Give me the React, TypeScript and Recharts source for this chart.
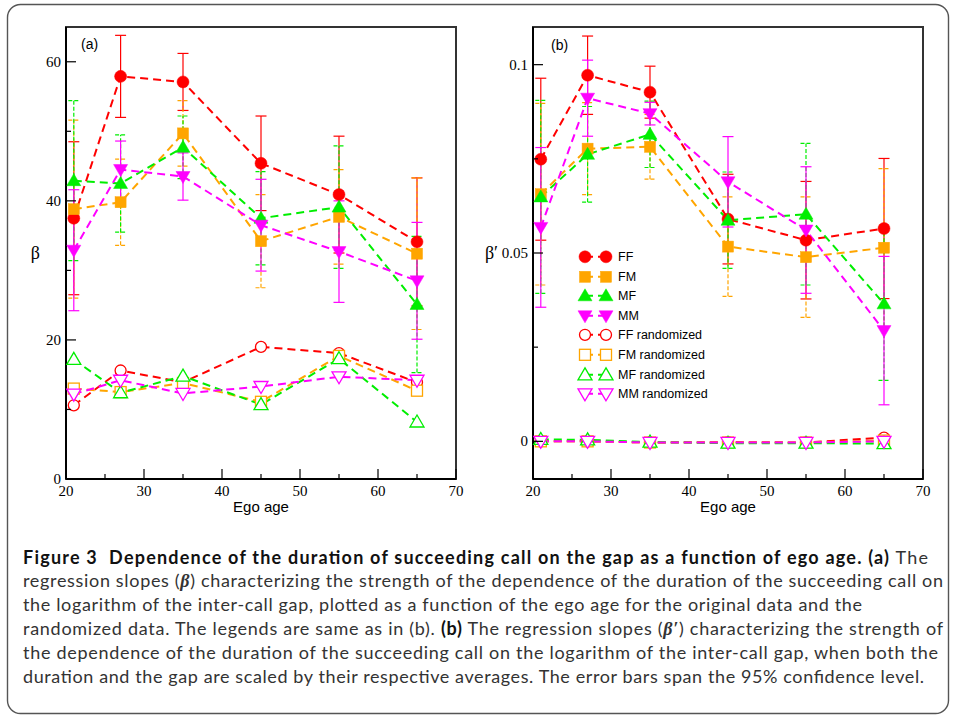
import React from 'react'
import { LineChart, Line, XAxis, YAxis, ErrorBar, ReferenceArea } from 'recharts'

// ego age groups
const ages = [21, 27, 35, 45, 55, 65]

// panel (a): beta
const betaFF = [37.5, 57.9, 57.1, 45.4, 40.9, 34.1]
const betaFFErr = [11.0, 5.9, 4.1, 6.8, 8.4, 9.2]
const betaFM = [38.8, 39.8, 49.7, 34.2, 37.7, 32.4]
const betaFMErr = [12.8, 6.2, 4.7, 6.7, 6.8, 10.9]
const betaMF = [42.9, 42.5, 47.7, 37.5, 39.1, 25.1]
const betaMFErr = [11.5, 7.0, 4.5, 6.7, 8.8, 9.8]
const betaMM = [32.9, 44.5, 43.5, 36.5, 32.7, 28.5]
const betaMMErr = [8.7, 4.1, 3.4, 6.6, 7.3, 8.4]
const betaFFRand = [10.6, 15.6, 13.9, 19.0, 18.1, 13.9]
const betaFMRand = [13.0, 12.5, 13.8, 11.1, 17.7, 12.7]
const betaMFRand = [17.2, 12.4, 14.8, 10.7, 17.3, 8.2]
const betaMMRand = [12.2, 14.2, 12.3, 13.3, 14.7, 14.2]

// panel (b): beta prime
const bpFF = [0.0749, 0.0972, 0.0927, 0.059, 0.0534, 0.0565]
const bpFFErr = [0.0215, 0.0104, 0.0069, 0.0119, 0.0156, 0.0186]
const bpFM = [0.0656, 0.0777, 0.0782, 0.0517, 0.0489, 0.0514]
const bpFMErr = [0.0241, 0.0122, 0.0086, 0.0132, 0.016, 0.021]
const bpMF = [0.0649, 0.0762, 0.0815, 0.0587, 0.0603, 0.0365]
const bpMFErr = [0.0256, 0.0127, 0.0088, 0.0128, 0.0188, 0.0203]
const bpMM = [0.0568, 0.0911, 0.087, 0.0689, 0.0561, 0.0294]
const bpMMErr = [0.0212, 0.0101, 0.003, 0.012, 0.0168, 0.0197]
const bpFFRand = [0.0, 0.0, -0.0003, -0.0002, -0.0003, 0.001]
const bpFMRand = [0.0, 0.0, -0.0003, -0.0003, -0.0003, 0.0002]
const bpMFRand = [0.0005, 0.0004, -0.0002, -0.0005, -0.0005, -0.0006]
const bpMMRand = [0.0, 0.0, -0.0003, -0.0003, -0.0003, 0.0]

const xTicks = [20, 25, 30, 35, 40, 45, 50, 55, 60, 65, 70]
const yTicksA = [0, 10, 20, 30, 40, 50, 60]
const yTicksB = [0, 0.025, 0.05, 0.075, 0.1]

type Shape = 'circle' | 'square' | 'up' | 'down'
interface Series {
  key: string
  name: string
  color: string
  shape: Shape
  filled: boolean
  errDash?: string
}

const series: Series[] = [
  { key: 'ff', name: 'FF', color: '#ff0000', shape: 'circle', filled: true },
  { key: 'fm', name: 'FM', color: '#ffa500', shape: 'square', filled: true, errDash: '4 2' },
  { key: 'mf', name: 'MF', color: '#00ee00', shape: 'up', filled: true, errDash: '4 2' },
  { key: 'mm', name: 'MM', color: '#ff00ff', shape: 'down', filled: true },
  { key: 'ffr', name: 'FF randomized', color: '#ff0000', shape: 'circle', filled: false },
  { key: 'fmr', name: 'FM randomized', color: '#ffa500', shape: 'square', filled: false },
  { key: 'mfr', name: 'MF randomized', color: '#00ee00', shape: 'up', filled: false },
  { key: 'mmr', name: 'MM randomized', color: '#ff00ff', shape: 'down', filled: false },
]

const dataA = ages.map((age, i) => ({
  age,
  ff: betaFF[i], ffErr: betaFFErr[i],
  fm: betaFM[i], fmErr: betaFMErr[i],
  mf: betaMF[i], mfErr: betaMFErr[i],
  mm: betaMM[i], mmErr: betaMMErr[i],
  ffr: betaFFRand[i], fmr: betaFMRand[i], mfr: betaMFRand[i], mmr: betaMMRand[i],
}))

const dataB = ages.map((age, i) => ({
  age,
  ff: bpFF[i], ffErr: bpFFErr[i],
  fm: bpFM[i], fmErr: bpFMErr[i],
  mf: bpMF[i], mfErr: bpMFErr[i],
  mm: bpMM[i], mmErr: bpMMErr[i],
  ffr: bpFFRand[i], fmr: bpFMRand[i], mfr: bpMFRand[i], mmr: bpMMRand[i],
}))

const SERIF = '"Liberation Serif", "Times New Roman", serif'
const SANS = '"Liberation Sans", Arial, sans-serif'

function Marker({ cx, cy, shape, color, filled }: { cx: number; cy: number; shape: Shape; color: string; filled: boolean }) {
  if (cx == null || cy == null || isNaN(cx) || isNaN(cy)) return null
  const fill = filled ? color : '#ffffff'
  const sw = filled ? 0.5 : 1.3
  if (shape === 'circle') return <circle cx={cx} cy={cy} r={filled ? 6 : 5.5} fill={fill} stroke={color} strokeWidth={sw} />
  if (shape === 'square') return <rect x={cx - 5.5} y={cy - 5.5} width={11} height={11} fill={fill} stroke={color} strokeWidth={sw} />
  if (shape === 'up') return <polygon points={`${cx},${cy - 7} ${cx - 7},${cy + 5} ${cx + 7},${cy + 5}`} fill={fill} stroke={color} strokeWidth={sw} />
  return <polygon points={`${cx},${cy + 7} ${cx - 7},${cy - 5} ${cx + 7},${cy - 5}`} fill={fill} stroke={color} strokeWidth={sw} />
}

const XTick = (props: any) => {
  const { x, y, payload } = props
  const v = payload.value
  const major = v % 10 === 0
  return (
    <g>
      <line x1={x} x2={x} y1={y} y2={y - (major ? 10 : 5)} stroke="#000" strokeWidth={1.2} />
      {major && (
        <text x={x} y={y + 17} textAnchor="middle" fontFamily={SERIF} fontSize={15} fill="#000">
          {v}
        </text>
      )}
    </g>
  )
}

const makeYTick = (step: number) => (props: any) => {
  const { x, y, payload } = props
  const v = payload.value
  const major = Math.abs(v / step - Math.round(v / step)) < 1e-6
  return (
    <g>
      <line x1={x} x2={x + (major ? 10 : 5)} y1={y} y2={y} stroke="#000" strokeWidth={1.2} />
      {major && (
        <text x={x - 5} y={y + 5} textAnchor="end" fontFamily={SERIF} fontSize={15} fill="#000">
          {v}
        </text>
      )}
    </g>
  )
}

interface PanelProps {
  data: any[]
  yDomain: [number, number]
  yTicks: number[]
  yStep: number
  yLabel: string
  yLabelOffset: number
  left: number
  marginLeft: number
  marginRight: number
}

function Panel({ data, yDomain, yTicks, yStep, yLabel, yLabelOffset, left, marginLeft, marginRight }: PanelProps) {
  return (
    <div style={{ position: 'absolute', left, top: 0 }}>
      <LineChart width={470} height={520} data={data} margin={{ top: 27, left: marginLeft - 1, right: marginRight, bottom: 40 }}>
        <ReferenceArea x1={20} x2={70} y1={yDomain[0]} y2={yDomain[1]} fill="none" stroke="#333" strokeWidth={2} ifOverflow="visible" />
        <XAxis
          dataKey="age"
          type="number"
          domain={[20, 70]}
          ticks={xTicks}
          interval={0}
          height={1}
          tickSize={0}
          tickMargin={0}
          tickLine={false}
          tick={(p: any) => <XTick {...p} />}
          axisLine={{ stroke: '#000', strokeWidth: 2 }}
          label={{ value: 'Ego age', position: 'bottom', offset: 21, fontSize: 15, fontFamily: SANS, fill: '#000' }}
        />
        <YAxis
          type="number"
          domain={yDomain}
          ticks={yTicks}
          interval={0}
          width={1}
          tickSize={0}
          tickMargin={0}
          tickLine={false}
          tick={makeYTick(yStep)}
          axisLine={{ stroke: '#000', strokeWidth: 2 }}
          label={{ value: yLabel, position: 'left', offset: yLabelOffset, fontSize: 18, fontFamily: SERIF, fill: '#000' }}
        />
        {series.map((s) => (
          <Line
            key={s.key}
            type="linear"
            dataKey={s.key}
            stroke={s.color}
            strokeWidth={2}
            strokeDasharray="8 5"
            isAnimationActive={false}
            activeDot={false}
            dot={(p: any) => (
              <Marker key={`${s.key}-${p.index}`} cx={p.cx} cy={p.cy} shape={s.shape} color={s.color} filled={s.filled} />
            )}
          >
            {s.filled && (
              <ErrorBar
                dataKey={`${s.key}Err`}
                direction="y"
                width={5.5}
                stroke={s.color}
                strokeWidth={1.2}
                strokeDasharray={s.errDash}
              />
            )}
          </Line>
        ))}
      </LineChart>
    </div>
  )
}

function LegendBox() {
  return (
    <div style={{ position: 'absolute', left: 572, top: 247 }}>
      {series.map((s) => (
        <svg key={s.key} width={160} height={19.6} style={{ display: 'block' }}>
          <line x1={13} x2={34} y1={9.8} y2={9.8} stroke={s.color} strokeWidth={2} strokeDasharray="8 5" />
          <Marker cx={13} cy={9.8} shape={s.shape} color={s.color} filled={s.filled} />
          <Marker cx={34} cy={9.8} shape={s.shape} color={s.color} filled={s.filled} />
          <text x={46} y={14.2} fontFamily={SANS} fontSize={12.5} fill="#000">
            {s.name}
          </text>
        </svg>
      ))}
    </div>
  )
}

const CAP = 'Lato, "Open Sans", sans-serif'

function Caption() {
  const base = 563.5
  const lh = 23.8
  const txt = { fontFamily: CAP, fontSize: 18, fill: '#333' }
  return (
    <svg width={954} height={715} style={{ position: 'absolute', left: 0, top: 0, pointerEvents: 'none' }}>
      <rect x={7.5} y={4.5} width={941} height={709} rx={13} fill="none" stroke="#555" strokeWidth={1.4} />
      <text x={23} y={base} textLength={905} lengthAdjust="spacing" {...txt}>
        <tspan fontWeight="bold" fill="#111">{'Figure 3\u00a0 Dependence of the duration of succeeding call on the gap as a function of ego age. (a)'}</tspan>
        <tspan> The</tspan>
      </text>
      <text x={23} y={base + lh} textLength={920} lengthAdjust="spacing" {...txt}>
        regression slopes (<tspan fontStyle="italic" fontWeight="bold" fontFamily={SERIF}>β</tspan>) characterizing the strength of the dependence of the duration of the succeeding call on
      </text>
      <text x={23} y={base + 2 * lh} textLength={839} lengthAdjust="spacing" {...txt}>
        the logarithm of the inter-call gap, plotted as a function of the ego age for the original data and the
      </text>
      <text x={23} y={base + 3 * lh} textLength={920} lengthAdjust="spacing" {...txt}>
        randomized data. The legends are same as in (b). <tspan fontWeight="bold" fill="#111">(b)</tspan> The regression slopes (<tspan fontStyle="italic" fontWeight="bold" fontFamily={SERIF}>β′</tspan>) characterizing the strength of
      </text>
      <text x={23} y={base + 4 * lh} textLength={915} lengthAdjust="spacing" {...txt}>
        the dependence of the duration of the succeeding call on the logarithm of the inter-call gap, when both the
      </text>
      <text x={23} y={base + 5 * lh} textLength={901} lengthAdjust="spacing" {...txt}>
        duration and the gap are scaled by their respective averages. The error bars span the 95% confidence level.
      </text>
    </svg>
  )
}

export default function App() {
  return (
    <div style={{ position: 'absolute', left: 0, top: 0, width: 954, height: 715, background: '#fff', overflow: 'hidden' }}>
      <Panel
        data={dataA}
        yDomain={[0, 65]}
        yTicks={yTicksA}
        yStep={20}
        yLabel="β"
        yLabelOffset={25}
        left={0}
        marginLeft={66}
        marginRight={14}
      />
      <Panel
        data={dataB}
        yDomain={[-0.01, 0.11]}
        yTicks={yTicksB}
        yStep={0.05}
        yLabel="β′"
        yLabelOffset={34}
        left={470}
        marginLeft={63}
        marginRight={17}
      />
      <div style={{ position: 'absolute', left: 81, top: 36, fontFamily: SANS, fontSize: 14, color: '#000' }}>(a)</div>
      <div style={{ position: 'absolute', left: 551, top: 37, fontFamily: SANS, fontSize: 14, color: '#000' }}>(b)</div>
      <LegendBox />
      <Caption />
    </div>
  )
}
